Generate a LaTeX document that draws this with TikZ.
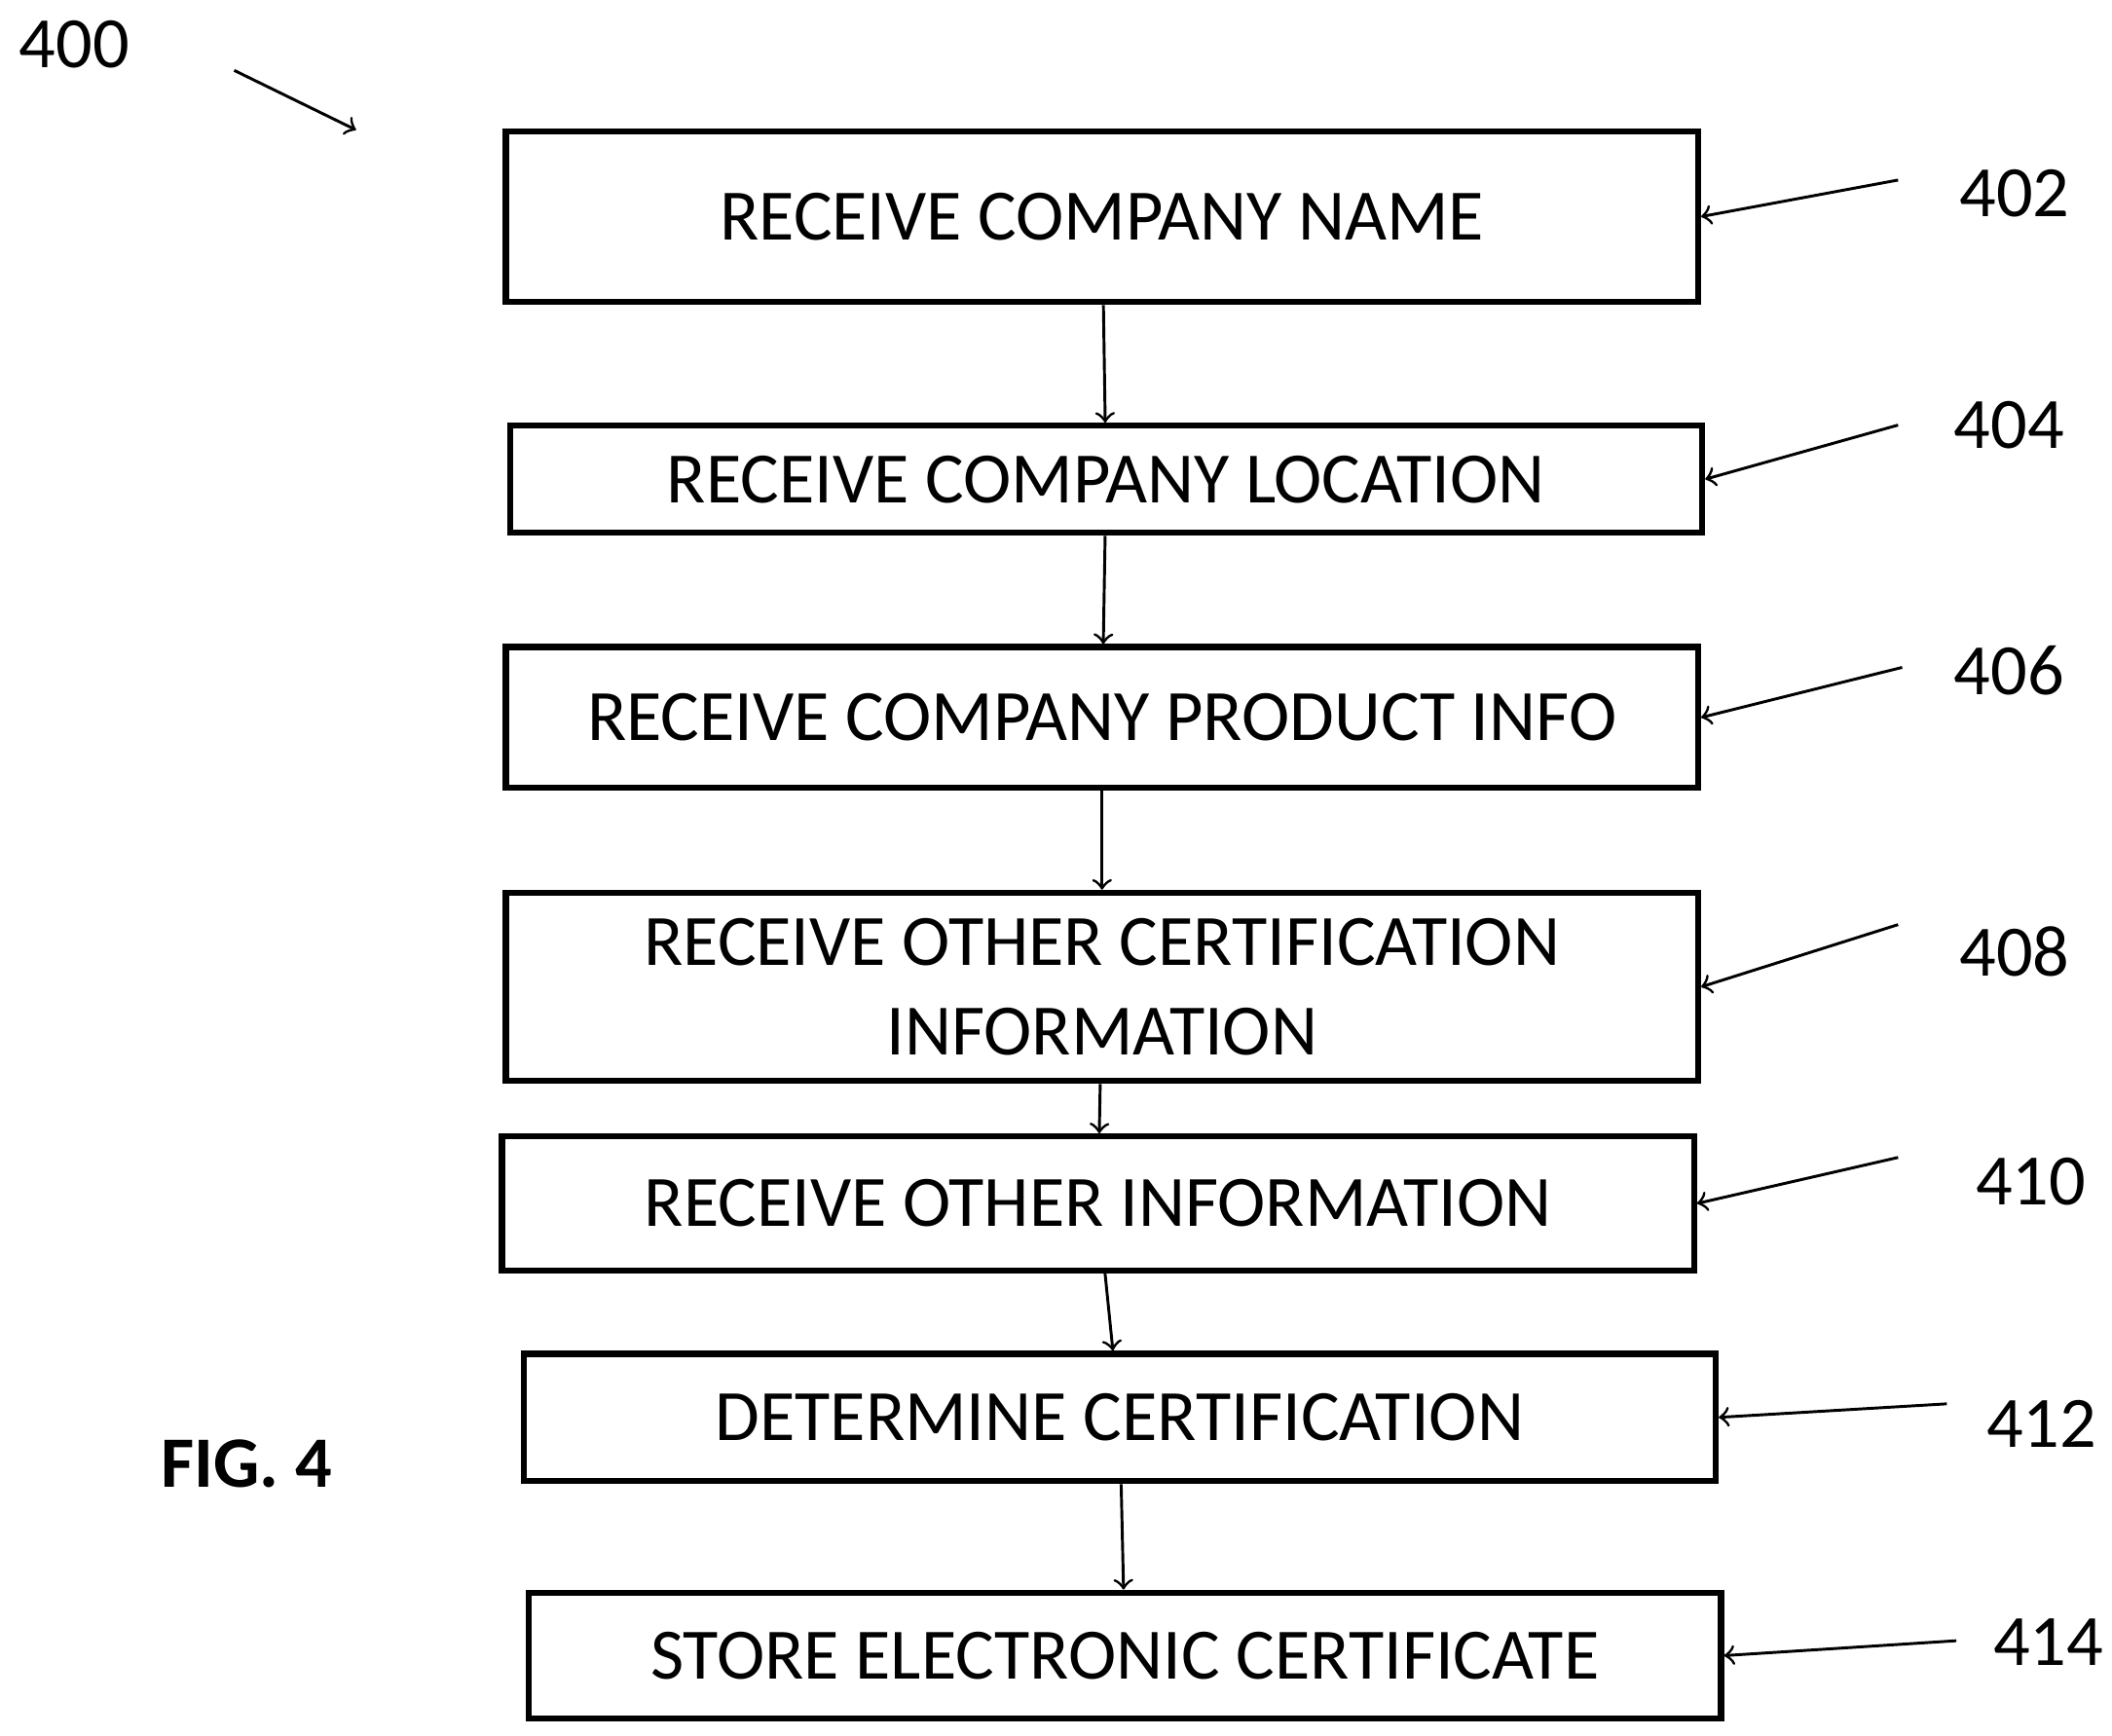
\documentclass[tikz,border=0pt]{standalone}
\usepackage{fontspec}
\setmainfont{Carlito}
\usetikzlibrary{arrows}

\begin{document}
\begin{tikzpicture}[
            > = to, % arrow head style
            x = 0.01cm, y = -0.01cm,
            semithick % line style
        ]

        \tikzstyle{stepbox}=[
            draw = black,
            line width = 1.3pt,
            minimum width = 8.8cm,
            align = center,
            font = \fontsize{15.2}{19}\selectfont,
            inner sep = 0pt
        ]
        \tikzstyle{ref}=[font = \fontsize{15.2}{18}\selectfont]
        \tikzstyle{lead}=[->, line width = 0.6pt]

        \useasboundingbox (0,0) rectangle (1560,1282);

        \node[stepbox, minimum height = 1.26cm] (name) at (814,160) {RECEIVE COMPANY NAME};
        \node[stepbox, minimum height = 0.79cm] (loc) at (817,354) {RECEIVE COMPANY LOCATION};
        \node[stepbox, minimum height = 1.04cm] (prod) at (814,530) {RECEIVE COMPANY PRODUCT INFO};
        \node[stepbox, minimum height = 1.39cm] (cert) at (814,729) {RECEIVE OTHER CERTIFICATION\\INFORMATION};
        \node[stepbox, minimum height = 0.99cm] (other) at (811,889) {RECEIVE OTHER INFORMATION};
        \node[stepbox, minimum height = 0.94cm] (det) at (827,1047) {DETERMINE CERTIFICATION};
        \node[stepbox, minimum height = 0.93cm] (store) at (831,1223) {STORE ELECTRONIC CERTIFICATE};

        \draw[lead] (name) -- (loc);
        \draw[lead] (loc) -- (prod);
        \draw[lead] (prod) -- (cert);
        \draw[lead] (cert) -- (other);
        \draw[lead] (other) -- (det);
        \draw[lead] (det) -- (store);

        % reference numerals
        \node[ref] (n400) at (55,33) {400};
        \node[ref] (n402) at (1488,143) {402};
        \node[ref] (n404) at (1484,314) {404};
        \node[ref] (n406) at (1484,495) {406};
        \node[ref] (n408) at (1488,703) {408};
        \node[ref] (n410) at (1500,873) {410};
        \node[ref] (n412) at (1508,1052) {412};
        \node[ref] (n414) at (1513,1213) {414};
        \node[ref, font = \fontsize{15.2}{18}\selectfont\bfseries] (fig) at (182,1081) {FIG. 4};

        \coordinate (c400) at (173,52);
        \coordinate (e400) at (263,96);
        \coordinate (c402) at (1402,133);
        \coordinate (c404) at (1402,314);
        \coordinate (c406) at (1405,493);
        \coordinate (c408) at (1402,683);
        \coordinate (c410) at (1402,855);
        \coordinate (c412) at (1438,1037);
        \coordinate (c414) at (1445,1212);

        \draw[lead] (c400) -- (e400);
        \draw[lead] (c402) -- (name.east);
        \draw[lead] (c404) -- (loc.east);
        \draw[lead] (c406) -- (prod.east);
        \draw[lead] (c408) -- (cert.east);
        \draw[lead] (c410) -- (other.east);
        \draw[lead] (c412) -- (det.east);
        \draw[lead] (c414) -- (store.east);
    \end{tikzpicture}
\end{document}
